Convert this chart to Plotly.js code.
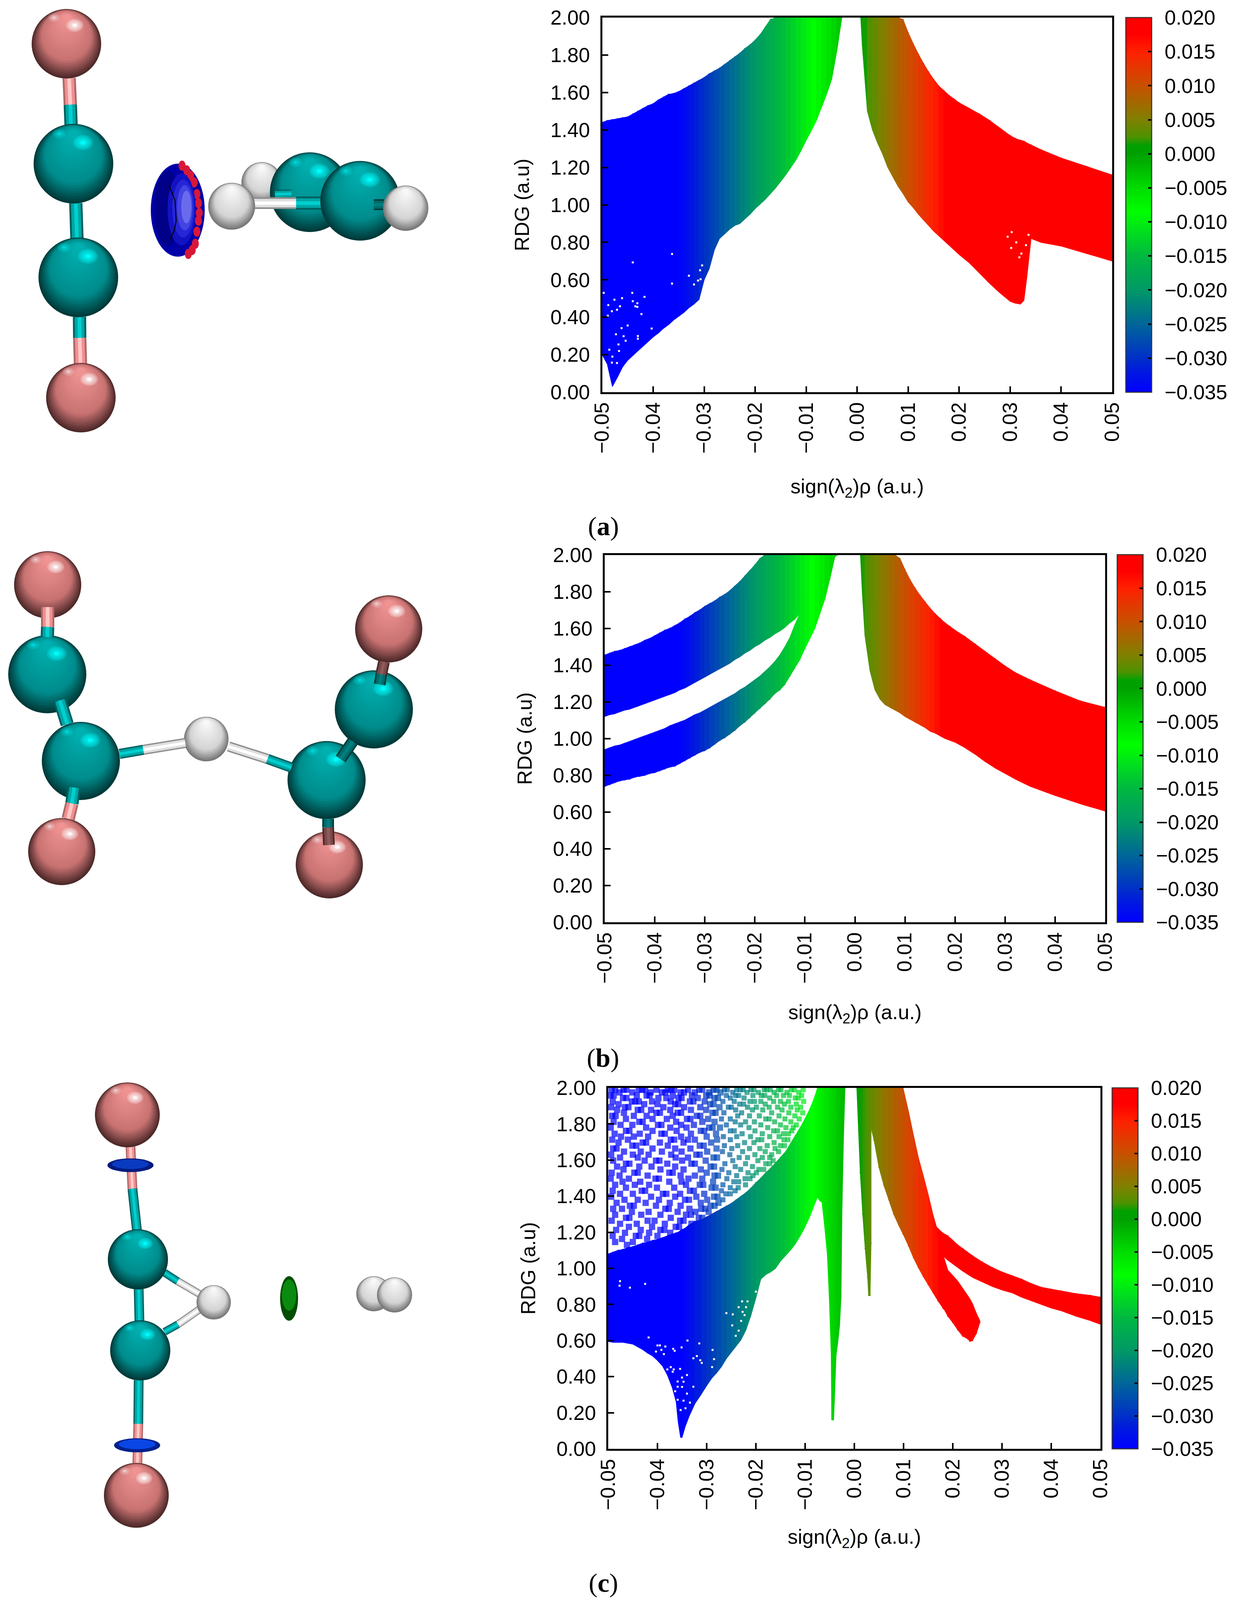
<!DOCTYPE html>
<html><head><meta charset="utf-8">
<script src="https://cdn.plot.ly/plotly-3.0.1.min.js"></script>
<style>html,body{margin:0;padding:0;background:#fff}</style></head>
<body><div id="chart"></div>
<script>
// ---------- colour scale ----------
const colorVals=[-0.035,-0.032,-0.03,-0.025,-0.02,-0.015,-0.0085,-0.005,0,0.0012,0.0025,0.005,0.01,0.015,0.0175,0.02];
const colorHex=["#0000ff","#0018e0","#0030c8","#006699","#009966","#00b840","#00ff00","#00dc00","#00a000","#00a000","#4f9200","#808000","#c85000","#ff2000","#ff0000","#ff0000"];
const tickVals=[-0.035,-0.03,-0.025,-0.02,-0.015,-0.01,-0.005,0,0.005,0.01,0.015,0.02];
const xTicks=[-0.05,-0.04,-0.03,-0.02,-0.01,0,0.01,0.02,0.03,0.04,0.05];
const yTicks=[0,0.2,0.4,0.6,0.8,1,1.2,1.4,1.6,1.8,2];
// ---------- panel (a) ----------
const aLx=[-.05,-.049,-.048,-.047,-.046,-.045,-.044,-.043,-.042,-.041,-.04,-.039,-.038,-.037,-.036,-.035,-.034,-.033,-.032,-.031,-.03,-.029,-.028,-.027,-.026,-.025,-.024,-.023,-.022,-.021,-.02,-.019,-.018,-.017,-.016,-.015,-.014,-.013,-.012,-.011,-.01,-.009,-.008,-.007,-.006,-.005,-.004,-.003];
const aLhi=[1.44,1.45,1.455,1.46,1.465,1.47,1.485,1.5,1.515,1.53,1.54,1.56,1.575,1.59,1.595,1.605,1.62,1.635,1.65,1.665,1.68,1.7,1.715,1.73,1.75,1.77,1.79,1.81,1.835,1.855,1.88,1.91,1.95,1.99,2,2,2,2,2,2,2,2,2,2,2,2,2,2];
const aLlo=[.2,.15,.03,.08,.135,.17,.195,.22,.245,.27,.295,.315,.34,.36,.385,.405,.425,.45,.47,.495,.6,.66,.76,.82,.845,.87,.89,.9,.925,.95,.98,1.005,1.03,1.06,1.09,1.125,1.16,1.2,1.24,1.29,1.345,1.395,1.45,1.52,1.59,1.67,1.82,2];
const aRx=[.0007,.001,.002,.003,.004,.005,.006,.007,.008,.009,.01,.011,.012,.013,.014,.015,.016,.017,.018,.019,.02,.022,.024,.026,.028,.03,.031,.032,.0327,.0333,.0341,.036,.04,.045,.05];
const aRlo=[2,1.85,1.5,1.4,1.33,1.27,1.2,1.15,1.1,1.06,1.015,.985,.95,.92,.89,.86,.835,.81,.785,.76,.735,.69,.635,.58,.53,.485,.475,.47,.49,.62,.82,.8,.78,.74,.7];
const aRhi=[2,2,2,2,2,2,2,2,2,1.99,1.92,1.86,1.805,1.755,1.71,1.67,1.635,1.61,1.585,1.565,1.545,1.515,1.485,1.45,1.41,1.37,1.355,1.345,1.34,1.33,1.32,1.295,1.25,1.205,1.16];
const aHoleX=[-.0363,-.044,-.0497,-.0461,-.0476,-.0417,-.0441,-.044,-.0431,-.0435,-.0431,-.0465,-.0488,-.0471,-.0481,-.0489,-.0423,-.045,-.0462,-.0403,-.0473,-.0458,-.043,-.043,-.0454,-.0468,-.0486,-.0467,-.048,-.0471,-.0481,-.0363,-.033,-.032,-.0312,-.0307,-.0308,-.0304,.0295,.0303,.0312,.0322,.0331,.0302,.0318,.0336];
const aHoleY=[.738,.693,.53,.502,.494,.509,.53,.486,.475,.459,.455,.459,.465,.44,.432,.408,.417,.356,.342,.34,.309,.299,.3,.285,.275,.255,.227,.22,.19,.156,.158,.58,.622,.575,.596,.603,.651,.677,.83,.855,.8,.74,.785,.77,.72,.84];
// ---------- panel (b) ----------
const b1x=[-.05,-.049,-.048,-.047,-.046,-.045,-.044,-.043,-.042,-.041,-.04,-.039,-.038,-.037,-.036,-.035,-.034,-.033,-.032,-.031,-.03,-.029,-.028,-.027,-.026,-.025,-.024,-.023,-.022,-.021,-.02,-.019,-.018,-.017,-.016,-.015,-.014,-.013,-.012,-.011,-.01];
const b1hi=[1.455,1.465,1.475,1.48,1.49,1.5,1.51,1.52,1.535,1.545,1.56,1.575,1.59,1.6,1.615,1.63,1.65,1.665,1.685,1.7,1.72,1.735,1.75,1.77,1.785,1.805,1.83,1.855,1.885,1.915,1.945,1.98,2,2,2,2,2,2,2,2,2];
const b1lo=[1.12,1.13,1.135,1.145,1.155,1.16,1.17,1.18,1.19,1.2,1.21,1.22,1.23,1.24,1.25,1.265,1.275,1.29,1.305,1.32,1.335,1.35,1.365,1.38,1.395,1.41,1.43,1.445,1.465,1.48,1.5,1.515,1.535,1.55,1.57,1.585,1.605,1.63,1.65,1.68,1.72];
const b2x=[-.05,-.049,-.048,-.047,-.046,-.045,-.044,-.043,-.042,-.041,-.04,-.039,-.038,-.037,-.036,-.035,-.034,-.033,-.032,-.031,-.03,-.029,-.028,-.027,-.026,-.025,-.024,-.023,-.022,-.021,-.02,-.019,-.018,-.017,-.016,-.015,-.014,-.013,-.012,-.011,-.01,-.01,-.009,-.008,-.007,-.006,-.005,-.004,-.0035];
const b2hi=[.94,.95,.96,.965,.975,.985,.995,1.005,1.015,1.025,1.035,1.045,1.055,1.07,1.08,1.09,1.1,1.115,1.13,1.14,1.155,1.17,1.185,1.2,1.215,1.23,1.245,1.265,1.28,1.3,1.32,1.34,1.365,1.39,1.42,1.455,1.5,1.55,1.62,1.68,1.72,2,2,2,2,2,2,2,2];
const b2lo=[.74,.75,.76,.77,.775,.78,.79,.795,.8,.81,.815,.825,.835,.845,.85,.865,.88,.895,.91,.925,.935,.95,.97,.99,1.005,1.025,1.045,1.07,1.09,1.115,1.14,1.165,1.19,1.215,1.245,1.265,1.295,1.34,1.385,1.43,1.49,1.49,1.545,1.6,1.68,1.76,1.87,1.99,2];
const bRx=[.0011,.0015,.002,.003,.004,.005,.006,.007,.008,.009,.01,.011,.012,.013,.014,.015,.016,.017,.018,.019,.02,.022,.024,.026,.028,.03,.032,.035,.04,.045,.05];
const bRlo=[2,1.78,1.56,1.37,1.265,1.215,1.185,1.17,1.155,1.14,1.12,1.105,1.09,1.075,1.06,1.04,1.03,1.015,1,.99,.98,.95,.915,.875,.84,.81,.78,.74,.69,.645,.605];
const bRhi=[2,2,2,2,2,2,2,2,2,1.98,1.92,1.865,1.82,1.78,1.745,1.71,1.68,1.655,1.63,1.61,1.59,1.555,1.515,1.475,1.435,1.395,1.36,1.32,1.26,1.205,1.17];
// ---------- panel (c) ----------
const cLx=[-.05,-.049,-.048,-.047,-.046,-.045,-.044,-.043,-.042,-.041,-.04,-.039,-.038,-.037,-.0362,-.0358,-.0353,-.035,-.0344,-.0336,-.0324,-.031,-.03,-.029,-.028,-.027,-.026,-.025,-.024,-.023,-.022,-.021,-.02,-.019,-.018,-.017,-.016,-.015,-.014,-.013,-.012,-.011,-.01,-.009,-.008,-.0075,-.0069,-.0066,-.0061,-.0055,-.0051,-.0047,-.0046,-.0042,-.0037,-.0034,-.003,-.0027,-.0025,-.0022,-.0019];
const cLhi=[1.08,1.09,1.1,1.105,1.115,1.12,1.13,1.14,1.145,1.155,1.16,1.17,1.18,1.19,1.197,1.2,1.21,1.215,1.222,1.24,1.26,1.27,1.285,1.3,1.315,1.33,1.345,1.36,1.38,1.4,1.42,1.445,1.475,1.5,1.53,1.555,1.585,1.615,1.645,1.69,1.735,1.78,1.83,1.885,1.955,2,2,2,2,2,2,2,2,2,2,2,2,2,2,2,2];
const cLlo=[.595,.59,.59,.59,.585,.58,.565,.55,.53,.515,.49,.46,.41,.34,.26,.15,.063,.063,.12,.178,.25,.307,.35,.39,.42,.455,.5,.535,.57,.605,.66,.74,.835,.94,.965,.98,1,1.04,1.07,1.1,1.135,1.18,1.23,1.29,1.36,1.395,1.37,1.37,1.25,1.08,.84,.52,.16,.16,.52,.58,.68,.84,1.34,1.72,2];
const cMx=[.0005,.0012,.0017,.0022,.0027,.0029,.0032,.0034,.0034,.004,.005,.006,.007,.008,.009,.0099,.011,.012,.013,.014,.015,.016,.017,.018,.0182,.0182,.019,.02,.021,.022,.023,.0235,.024,.0248,.0255];
const cMlo=[2,1.53,1.3,1.11,.95,.85,.85,1.14,1.78,1.71,1.56,1.46,1.38,1.3,1.24,1.19,1.125,1.06,1.005,.955,.91,.865,.82,.78,.775,.775,.735,.7,.66,.625,.61,.596,.6,.64,.7];
const cMhi=[2,2,2,2,2,2,2,2,2,2,2,2,2,2,2,2,1.87,1.74,1.615,1.515,1.41,1.295,1.2,1.16,1.16,1.06,.99,.96,.93,.89,.85,.83,.805,.75,.71];
const cTx=[.0165,.017,.018,.019,.02,.021,.022,.024,.026,.028,.03,.032,.034,.036,.038,.04,.042,.045,.048,.05];
const cTlo=[1.23,1.16,1.07,1.045,1.025,1.005,.985,.95,.925,.9,.88,.865,.84,.82,.8,.78,.765,.735,.71,.69];
const cThi=[1.235,1.22,1.195,1.18,1.155,1.13,1.11,1.07,1.035,1.005,.98,.96,.94,.915,.895,.885,.875,.86,.85,.84];
const cHoleX=[-.0476,-.0425,-.0477,-.0456,-.0418,-.04,-.0395,-.0384,-.0368,-.0365,-.0392,-.0403,-.0387,-.0351,-.0339,-.0315,-.0288,-.032,-.0327,-.0313,-.031,-.0289,-.0285,-.038,-.0373,-.0367,-.0354,-.0369,-.034,-.035,-.0347,-.0359,-.035,-.0359,-.0327,-.0364,-.034,-.0359,-.0347,-.0334,-.0343,-.0353,-.02,-.0217,-.0228,-.022,-.0235,-.0227,-.0223,-.0247,-.023,-.0248,-.0235,-.0241,-.026];
const cHoleY=[.929,.914,.904,.893,.617,.573,.573,.567,.554,.543,.548,.539,.525,.562,.6,.584,.548,.514,.502,.491,.476,.453,.497,.44,.453,.44,.443,.427,.409,.395,.372,.373,.343,.344,.344,.319,.306,.272,.267,.256,.225,.215,.871,.817,.817,.785,.785,.759,.741,.745,.709,.684,.655,.626,.752];
// scattered points above the main band of (c): y level, then x values in thousandths
const cloudRows=[
[1.99,-49.3,-48.6,-46.9,-46.3,-43.8,-43.1,-42.5,-40.2,-37.9,-37.2,-36.6,-33.8,-31.5,-30.9,-28.6,-28,-26.4,-25.8,-23.9,-23.2,-22.6,-21,-20.4,-18.3,-17.8,-17.1,-15.4,-14.9,-12.8,-12.2,-10.4],
[1.975,-47.7,-45.1,-41.4,-39.1,-38.4,-35.3,-34.6,-32.4,-29.5,-27.2,-24.7,-21.8,-19.5,-16.3,-13.7,-11.3],
[1.958,-49.5,-48.9,-44.2,-42.2,-41.6,-36.9,-33,-30.1,-29.4,-26,-24.1,-23.5,-20.6,-18.9,-18.2,-15.8,-14.4,-13.2,-10.7],
[1.944,-47,-46.3,-39.8,-38.2,-35.7,-35.1,-31.8,-28.4,-27.7,-25.2,-22.4,-17.2,-12,-11.4],
[1.925,-49.1,-45.2,-44.5,-43.8,-41.1,-37.3,-33.4,-32.7,-30.4,-26.7,-24.4,-21.2,-20.3,-19,-16.4,-15,-13.4,-10.3],
[1.91,-47.9,-42.7,-40,-36.4,-35.8,-29.3,-28.6,-23.3,-22.5,-18.1,-14.2,-11.8],
[1.893,-49.4,-46.6,-45.9,-38.8,-34.6,-31.3,-27.4,-25.6,-25,-21.7,-19.9,-17.3,-15.6,-12.9,-10.9],
[1.878,-48.2,-44,-43.3,-41.3,-37.4,-33.2,-30.1,-24.1,-20.7,-18.6,-14.7,-11.6],
[1.862,-46.8,-40.2,-39.5,-35.9,-35.2,-28.8,-28.2,-26.5,-22.9,-16.8,-13.3,-10.5],
[1.845,-49.2,-48.5,-44.8,-42.2,-36.9,-32,-31.3,-23.7,-21.3,-19.3,-15.3,-12.1],
[1.828,-46.4,-41,-38.1,-34,-33.3,-29.7,-27,-25.2,-18,-17.3,-14.1,-11.2],
[1.812,-48.9,-43.7,-43,-36.2,-30.9,-28.4,-24.2,-22.1,-20.3,-16.2,-12.9],
[1.795,-47.5,-45.1,-39.9,-39.2,-35.2,-32.6,-26,-23.1,-19,-15,-11.8],
[1.78,-49.5,-42.3,-37.4,-34.1,-29.5,-28.8,-27.3,-21.4,-17.6,-13.9,-12.4],
[1.762,-46.4,-45.7,-41,-36.1,-31.2,-30.5,-25.2,-24.4,-20.2,-16.4,-15.6,-12.7],
[1.746,-48.7,-43.6,-39.2,-38.5,-33.2,-28.1,-22.8,-18.7,-14.4,-13.4],
[1.73,-47.4,-44.8,-41.9,-35.2,-30,-26.6,-23.9,-21.1,-17.2,-15.3],
[1.713,-49.2,-46,-37.3,-36.6,-33.8,-32.4,-27.9,-25.2,-19.6,-18.8,-14.3,-13.5],
[1.697,-47.9,-43,-42.3,-39.5,-34.7,-29.1,-22.3,-20.4,-16.3],
[1.68,-45.1,-44.3,-37.9,-31.4,-30.6,-26.4,-23.7,-17.7,-15,-14.2],
[1.664,-49,-48.3,-41,-36.4,-33.3,-28,-24.9,-21.3,-19.2,-16.1],
[1.647,-46.8,-43.4,-39.1,-35.1,-29.9,-26.8,-22.7,-18.1,-15.4],
[1.63,-49.4,-45,-41.8,-37.2,-32.1,-31.4,-25.3,-20.2,-16.8],
[1.614,-47.6,-44,-36.3,-33.8,-28.6,-27.9,-23.4,-21.7,-18.7,-17.2],
[1.597,-49,-42.6,-40.3,-39.6,-35,-30.2,-24.7,-19.6,-16.5],
[1.58,-46.4,-45.7,-38,-33.1,-32.4,-26.3,-22.1,-18,-17.2],
[1.564,-48.2,-43.7,-41.2,-36.4,-29.2,-28.5,-24.2,-20.7],
[1.548,-46.9,-39.4,-34.7,-31.2,-26.9,-23.1,-19.4,-18.4],
[1.53,-49.3,-44.7,-44,-37.6,-36.9,-30,-25.5,-21.6,-19.9],
[1.514,-47.7,-42,-35.3,-32.4,-28.4,-27.7,-23.9,-20.6],
[1.497,-49.5,-45.8,-40.4,-39.7,-33.7,-30.9,-25.9,-22.2,-21.2],
[1.48,-47.1,-43.5,-37.6,-35.1,-28.7,-24.5,-23.5],
[1.463,-48.6,-44.6,-41.7,-34.2,-31.4,-30.7,-26.7,-22.1],
[1.447,-46.4,-40.1,-36.6,-29,-28.2,-25.2,-23.6],
[1.43,-49.1,-43.2,-42.5,-33.4,-32.6,-27,-24.2],
[1.413,-47.6,-45,-38.9,-38.2,-35.4,-30.5,-26.1,-25.2],
[1.397,-49.4,-41.3,-36.4,-32.1,-28.5,-27.8],
[1.38,-46.7,-44,-39.7,-34.4,-33.6,-29.9,-26.7],
[1.363,-48.3,-42.4,-37.5,-31.2,-27.6],
[1.347,-45.6,-44.8,-40.3,-35.3,-29.2,-28.4],
[1.33,-49,-47.2,-38.4,-37.7,-33.5,-31.1,-30.3],
[1.313,-45.2,-41.8,-35.9,-32.3,-29.6],
[1.297,-48.6,-43.3,-39.4,-34.2,-33.2],
[1.28,-46.4,-45.7,-37.3,-31.6,-30.9],
[1.264,-49.3,-42,-40.6,-35.4,-34.7],
[1.247,-47.6,-44.2,-38.5,-33.1],
[1.23,-45.8,-41.1,-36.3,-35.6],
[1.213,-48.4,-43.4,-39.4,-38.6],
[1.197,-46.6,-41.7,-37.4],
[1.18,-49.1,-44.4,-43.7,-40],
[1.163,-47.2,-42.1],
[1.146,-48.6,-45],
[1.13,-46.2]
];
// ---------- molecule drawings: [kind, x, y, radius] ----------
const atomsA=[["Br",170,112,89],["C",188,419,102],["C",200.5,710,102],["Br",207,1018,89]];
const bondsA=[["pink",177,200,180,268],["teal",180,268,182,322],["teal",194,520,197,612],["teal",203.5,811,204,865],["pink",204,865,206,934]];
const atomsA2a=[["H",670,467,52],["C",793,492,102]];
const bondsA2=[["teal",704,497,746,496,22],["white",650,520,758,520],["teal",758,520,823,520]];
const atomsA2b=[["C",922,514,102]];
const bondsA3=[["darkteal",957,524,983,524,28]];
const atomsA2c=[["H",593,528,60],["H",1038.5,533,58]];
const atomsB1=[["Br",122,1497,86],["C",121,1726,100]];
const bondsB1=[["pink",122,1554,122,1605],["teal",122,1605,121,1631]];
const atomsB2=[["Br",158,2180,86],["C",207,1948,100],["H",528,1892,57],["Br",843,2214,86],["C",836,1997,100],["Br",995,1610,86],["C",957,1816,100]];
const bondsB2=[["teal",153,1793,172,1854],["teal",190,2016,184,2057],["pink",184,2057,174.5,2096],["teal",306,1930,367,1919.5,26],["white",367,1919.5,474.5,1902,26],["white",585,1911,685,1943,26],["teal",685,1943,746,1965,26],["darkteal",872,1943,903,1898],["darkteal",972,1752,976,1726],["brown",976,1726,983,1694],["darkteal",840,2096,840,2118.5],["brown",840,2118.5,842,2163]];
const bondsC=[["pink",334,2935,339,3043,25],["teal",339,3043,351,3154,25],["teal",355,3298,357,3386,25],["teal",355,3533,354,3645,25],["pink",354,3645,351.5,3752,25],["teal",421,3258,455,3280,20],["white",455,3280,513.5,3314,20],["teal",421,3409.5,456,3390,20],["white",456,3390,513.5,3350,20]];
const atomsC=[["Br",326,2854,83],["C",353,3224,77],["C",359,3457,77],["Br",349,3828,83],["H",547,3334,44],["H",957,3312,45],["H",1010,3315,45]];
const discA=[455,538,69,119];
const redSpotsX=[466,478,488,497,504,508,510,508,504,500,492,482];
const redSpotsY=[424,436,450,467,497,520,545,565,593,624,640,650];
const squiggleX=[432,440,448,451,446,436];
const squiggleY=[474,492,513,566,590,612];
const discsC=[[334,2983,59,17.5,"#001a80","#0a3ac0"],[351,3700,59,18,"#00208c","#0a46e6"],[740,3324,23,57,"#004d00","#0a8a10"]];

// ---------- helpers ----------
const W=3164,H=4117;
function hex2rgb(h){return [1,3,5].map(i=>parseInt(h.slice(i,i+2),16));}
function colorAt(v){
  if(v<=colorVals[0])return colorHex[0];
  for(let i=1;i<colorVals.length;i++){
    if(v<=colorVals[i]){
      const t=(v-colorVals[i-1])/(colorVals[i]-colorVals[i-1]);
      const a=hex2rgb(colorHex[i-1]),b=hex2rgb(colorHex[i]);
      return 'rgb('+a.map((c,k)=>Math.round(c+(b[k]-c)*t)).join(',')+')';
    }
  }
  return colorHex[colorHex.length-1];
}
const cmin=-0.035,cmax=0.02;
const colorscale=colorVals.map((v,i)=>[(v-cmin)/(cmax-cmin),colorHex[i]]);
const traces=[];
function band(ax,ay,xs,lo,hi){
  for(let i=0;i<xs.length-1;i++){
    if(xs[i]===xs[i+1])continue;
    const c=colorAt((xs[i]+xs[i+1])/2);
    traces.push({type:'scatter',mode:'lines',xaxis:ax,yaxis:ay,hoverinfo:'skip',showlegend:false,
      x:[xs[i],xs[i+1],xs[i+1],xs[i],xs[i]],y:[lo[i],lo[i+1],hi[i+1],hi[i],lo[i]],
      fill:'toself',fillcolor:c,line:{color:c,width:1.6}});
  }
}
function edge(ax,ay,xs,ys,cbPx,plot){
  const cb={x:cbPx/W,xanchor:'left',xpad:0,ypad:0,thickness:66,thicknessmode:'pixels',
        lenmode:'pixels',len:plot.b-plot.t,y:1-((plot.t+plot.b)/2)/H,yanchor:'middle',
        tickvals:tickVals,tickformat:'.3f',outlinecolor:'#333',outlinewidth:2.5,
        tickfont:{family:'Liberation Sans',size:52,color:'#000'}};
  // labelled bar: transparent outer ticks set the gap to the labels
  traces.push({type:'scatter',mode:'markers',xaxis:ax,yaxis:ay,hoverinfo:'skip',showlegend:false,x:xs,y:ys,
    marker:{size:3,color:xs,cmin,cmax,colorscale,showscale:true,line:{width:0},
      colorbar:Object.assign({},cb,{ticks:'outside',ticklen:22,tickwidth:1,tickcolor:'rgba(0,0,0,0)'})}});
  // same bar on top: short inner ticks, no labels
  traces.push({type:'scatter',mode:'markers',xaxis:ax,yaxis:ay,hoverinfo:'skip',showlegend:false,x:xs,y:ys,
    marker:{size:3,color:xs,cmin,cmax,colorscale,showscale:true,line:{width:0},
      colorbar:Object.assign({},cb,{ticks:'inside',ticklen:10,tickwidth:4,tickcolor:'#000',showticklabels:false})}});
}
function holes(ax,ay,xs,ys,sz){
  traces.push({type:'scatter',mode:'markers',xaxis:ax,yaxis:ay,hoverinfo:'skip',showlegend:false,x:xs,y:ys,
    marker:{symbol:'square',size:sz,color:'#fff',line:{width:0}}});
}
const plots=[{l:1541.5,r:2847,t:45,b:1004,cb:2882},{l:1548,r:2829,t:1420.5,b:2361,cb:2860},{l:1557,r:2817,t:2785,b:3709,cb:2847}];

// panel a
band('x','y',aLx,aLlo,aLhi);band('x','y',aRx,aRlo,aRhi);
edge('x','y',aLx.concat(aRx),aLhi.concat(aRhi),plots[0].cb,plots[0]);
holes('x','y',aHoleX,aHoleY,5);
// panel b
band('x2','y2',b1x,b1lo,b1hi);band('x2','y2',b2x,b2lo,b2hi);band('x2','y2',bRx,bRlo,bRhi);
edge('x2','y2',b1x.concat(b2x,bRx),b1hi.concat(b2lo,bRhi),plots[1].cb,plots[1]);
// panel c
band('x3','y3',cLx,cLlo,cLhi);band('x3','y3',cMx,cMlo,cMhi);band('x3','y3',cTx,cTlo,cThi);
edge('x3','y3',cLx.concat(cMx,cTx),cLhi.concat(cMlo,cThi),plots[2].cb,plots[2]);
const cloudX=[],cloudY=[];
cloudRows.forEach(r=>{for(let i=1;i<r.length;i++){cloudX.push(r[i]/1000);cloudY.push(r[0]);}});
traces.push({type:'scatter',mode:'markers',xaxis:'x3',yaxis:'y3',hoverinfo:'skip',showlegend:false,x:cloudX,y:cloudY,
  marker:{symbol:'square',size:cloudX.map(v=>v<-0.027?16:13),color:cloudX,cmin,cmax,colorscale,line:{width:0}}});
holes('x3','y3',cHoleX,cHoleY,5);

// molecules: shapes on a pixel axis covering the left part of the page
const MOLW=1250;
const shapes=[];
function ell(cx,cy,rx,ry,fill,op){
  shapes.push({type:'circle',xref:'x4',yref:'y4',x0:cx-rx,x1:cx+rx,y0:cy-ry,y1:cy+ry,fillcolor:fill,opacity:op===undefined?1:op,line:{width:0},layer:'above'});
}
const PAL={C:{edge:'#003a3a',mid:'#008c8c',core:'#00b0b0',spec:'#00ffff'},
  Br:{edge:'#4f2a2a',mid:'#c87272',core:'#f09393',spec:'#ffffff'},
  H:{edge:'#777777',mid:'#d4d4d4',core:'#f8f8f8',spec:'#ffffff'}};
function mix(a,b,t){const A=hex2rgb(a),B=hex2rgb(b);return 'rgb('+A.map((c,k)=>Math.round(c+(B[k]-c)*t)).join(',')+')';}
function sphere(a){
  const [k,cx,cy,r]=a,p=PAL[k],N=26;
  for(let i=0;i<=N;i++){
    const t=i/N;
    const col=t<.3?mix(p.edge,p.mid,t/.3):mix(p.mid,p.core,(t-.3)/.7);
    ell(cx,cy-.75*r*t,r*(1-.9*t),r*(1-.9*t),col);
  }
  if(k==='H')return;
  [[-.36,-.75,.17,.35],[.24,-.53,.25,.8]].forEach(s=>{
    for(let j=0;j<5;j++){
      const f=1-j*.18;
      ell(cx+s[0]*r,cy+s[1]*r,s[2]*r*f,s[2]*r*.75*f,p.spec,s[3]*(j==4?1:.3));
    }
  });
}
const STICK={teal:['#006060','#00a5a5','#00d0d0',34],pink:['#b06868','#f09090','#ffc8c8',34],white:['#909090','#e0e0e0','#ffffff',30],
  darkteal:['#003c3c','#006a6a','#007f7f',30],brown:['#4a2a2a','#7a4848','#8f5a5a',30]};
function stick(b){
  const [k,x0,y0,x1,y1,w0]=b,s=STICK[k],w=w0||s[3];
  [[s[0],1],[s[1],.72],[s[2],.28]].forEach(l=>{
    shapes.push({type:'line',xref:'x4',yref:'y4',x0,y0,x1,y1,line:{color:l[0],width:w*l[1]},layer:'above'});
  });
}
// (a)
bondsA.forEach(stick);atomsA.forEach(sphere);
atomsA2a.forEach(sphere);bondsA2.forEach(stick);atomsA2b.forEach(sphere);bondsA3.forEach(stick);atomsA2c.forEach(sphere);
const [dx,dy,drx,dry]=discA;
ell(dx,dy,drx,dry,'#0000a8');
ell(dx-26,dy-4,drx-36,dry-22,'#000088');
redSpotsX.forEach((x,i)=>ell(x,redSpotsY[i],9,13,'#d81838'));
ell(dx+10,dy-2,36,92,'#1212c4');
ell(dx+14,dy-4,28,74,'#2626d6');
ell(dx+18,dy-6,20,58,'#4444e2');
ell(dx+22,dy-8,13,42,'#6a6aee');
shapes.push({type:'path',xref:'x4',yref:'y4',layer:'above',line:{color:'#000',width:2.5},
  path:squiggleX.map((x,i)=>(i?'L':'M')+x+','+squiggleY[i]).join(' ')});
// (b)
atomsB1.forEach(sphere);atomsB2.forEach(sphere);bondsB1.forEach(stick);bondsB2.forEach(stick);
// (c)
bondsC.forEach(stick);atomsC.forEach(sphere);
discsC.forEach(d=>{ell(d[0],d[1],d[2],d[3],d[4]);ell(d[0],d[1]-d[3]*.15,d[2]*.8,d[3]*.7,d[5]);});

// invisible trace so the pixel axis exists
const allAtoms=[].concat(atomsA,atomsA2a,atomsA2b,atomsA2c,atomsB1,atomsB2,atomsC);
traces.push({type:'scatter',mode:'markers',xaxis:'x4',yaxis:'y4',hoverinfo:'skip',showlegend:false,
  x:allAtoms.map(a=>a[1]),y:allAtoms.map(a=>a[2]),marker:{size:1,color:'rgba(0,0,0,0)'}});

const F={family:'Liberation Sans',size:52,color:'#000'};
function xa(i){const p=plots[i];return {domain:[p.l/W,p.r/W],range:[-.05,.05],anchor:i?'y'+(i+1):'y',tickvals:xTicks,tickformat:'.2f',tickangle:-90,
  ticks:'inside',ticklen:15,tickwidth:4,tickcolor:'#000',showline:true,linewidth:5,linecolor:'#000',mirror:true,showgrid:false,zeroline:false,
  tickfont:F,title:{text:'sign(λ<sub>2</sub>)ρ (a.u.)',font:F,standoff:[68,57,52][i]}};}
function ya(i){const p=plots[i];return {domain:[1-p.b/H,1-p.t/H],range:[0,2],anchor:i?'x'+(i+1):'x',tickvals:yTicks,tickformat:'.2f',ticklabelstandoff:16,
  ticks:'inside',ticklen:15,tickwidth:4,tickcolor:'#000',showline:true,linewidth:5,linecolor:'#000',mirror:true,showgrid:false,zeroline:false,
  tickfont:F,title:{text:'RDG (a.u)',font:F,standoff:39}};}
const labelPos=[[1544,1347,'a'],[1543,2708,'b'],[1545,4052,'c']];
const layout={width:W,height:H,margin:{l:0,r:0,t:0,b:0},paper_bgcolor:'#fff',plot_bgcolor:'rgba(0,0,0,0)',showlegend:false,
  font:{family:'Liberation Sans'},
  xaxis:xa(0),yaxis:ya(0),xaxis2:xa(1),yaxis2:ya(1),xaxis3:xa(2),yaxis3:ya(2),
  xaxis4:{domain:[0,MOLW/W],range:[0,MOLW],visible:false,anchor:'y4',fixedrange:true},
  yaxis4:{domain:[0,1],range:[H,0],visible:false,anchor:'x4',fixedrange:true},
  shapes,
  annotations:labelPos.map(p=>({xref:'paper',yref:'paper',x:p[0]/W,y:1-p[1]/H,xanchor:'center',yanchor:'middle',showarrow:false,
    text:'(<b>'+p[2]+'</b>)',font:{family:'Liberation Serif',size:68,color:'#000'}}))};
Plotly.newPlot('chart',traces,layout,{displayModeBar:false,staticPlot:true});
</script></body></html>
